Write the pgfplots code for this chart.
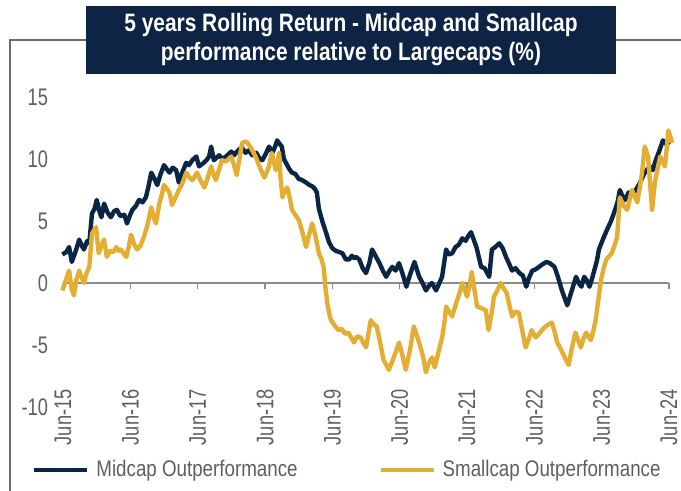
\documentclass[border=0pt]{standalone}
\usepackage{pgfplots}
\pgfplotsset{compat=1.18}
\usepackage{fontspec}
\setmainfont{Liberation Sans}[FakeStretch=0.76]
\newfontfamily\legfont{Liberation Sans}[FakeStretch=0.83]
\definecolor{navy}{HTML}{0B2545}
\definecolor{gold}{HTML}{E3AE33}
\definecolor{titlenavy}{HTML}{0E2444}
\definecolor{labelgray}{HTML}{5F5F5F}
\definecolor{framegray}{HTML}{6A6A6A}
\definecolor{zerogray}{HTML}{8C8C8C}

\pgfplotstableread{
t y
15.49 2.3
15.55 2.5
15.59 2.9
15.63 1.7
15.69 2.6
15.74 3.5
15.78 3.0
15.81 2.7
15.86 3.4
15.89 3.2
15.93 5.6
15.97 6.0
16.00 6.7
16.04 5.8
16.07 5.3
16.11 6.4
16.16 5.7
16.21 5.3
16.26 5.8
16.30 5.9
16.35 5.4
16.41 5.5
16.45 4.8
16.49 5.4
16.53 5.9
16.58 6.2
16.63 6.7
16.68 6.5
16.73 6.9
16.77 7.8
16.81 8.9
16.85 8.5
16.90 7.9
16.95 8.8
17.00 9.5
17.04 9.2
17.08 8.9
17.13 9.3
17.18 9.1
17.22 8.1
17.27 8.9
17.33 9.7
17.37 9.5
17.42 9.9
17.48 10.2
17.52 9.4
17.57 9.6
17.63 9.9
17.67 10.2
17.70 11.0
17.74 9.9
17.78 10.1
17.82 10.3
17.87 10.0
17.92 10.2
17.96 10.4
18.00 10.6
18.04 10.3
18.07 10.5
18.12 10.8
18.16 10.9
18.21 10.5
18.26 10.7
18.31 10.3
18.37 10.5
18.41 10.1
18.46 9.9
18.51 10.4
18.56 11.0
18.61 10.5
18.65 11.0
18.68 11.5
18.72 11.2
18.75 11.0
18.78 10.0
18.81 9.7
18.86 9.2
18.90 8.9
18.95 8.8
19.00 8.4
19.05 8.3
19.11 8.1
19.16 7.9
19.20 7.8
19.24 7.6
19.27 7.3
19.30 6.0
19.35 5.0
19.41 4.0
19.45 3.3
19.50 2.8
19.55 2.6
19.60 2.5
19.65 2.4
19.70 1.9
19.75 1.9
19.79 2.2
19.82 2.0
19.85 2.1
19.90 1.9
19.95 1.2
20.00 0.8
20.05 1.6
20.09 2.7
20.14 2.2
20.20 1.6
20.25 1.0
20.30 0.5
20.35 1.0
20.39 1.3
20.44 1.0
20.49 1.6
20.54 0.8
20.60 -0.3
20.65 0.6
20.72 1.7
20.76 1.0
20.79 0.5
20.84 0.0
20.89 -0.6
20.94 -0.2
20.98 0.0
21.04 -0.6
21.09 0.0
21.13 0.5
21.19 2.7
21.23 2.3
21.28 2.4
21.33 2.9
21.38 3.1
21.43 3.6
21.48 3.4
21.52 3.8
21.56 4.1
21.60 3.5
21.64 2.9
21.68 2.0
21.71 1.3
21.76 1.2
21.83 0.5
21.87 2.7
21.92 2.9
21.98 3.2
22.03 2.8
22.08 2.1
22.13 1.5
22.17 1.0
22.22 1.2
22.28 0.8
22.33 0.6
22.38 -0.3
22.42 0.4
22.47 1.0
22.52 1.1
22.57 1.3
22.62 1.5
22.68 1.7
22.73 1.6
22.80 1.3
22.85 0.5
22.91 -0.6
22.95 -1.2
22.99 -1.8
23.04 -0.9
23.08 -0.2
23.12 0.5
23.16 0.0
23.20 -0.3
23.24 0.5
23.28 0.2
23.32 -0.3
23.36 0.4
23.39 1.0
23.43 1.8
23.46 2.7
23.51 3.4
23.58 4.3
23.64 5.0
23.70 5.9
23.74 6.6
23.77 7.5
23.81 7.0
23.85 6.7
23.90 7.3
23.96 7.1
24.03 7.7
24.08 8.2
24.13 8.8
24.17 9.1
24.22 9.4
24.26 9.1
24.31 10.0
24.36 10.7
24.41 11.5
24.46 11.2
24.51 11.4
}\midcap

\pgfplotstableread{
t y
15.49 -0.6
15.54 0.2
15.59 1.0
15.63 -0.5
15.66 -1.0
15.70 0.3
15.74 1.0
15.78 0.4
15.81 0.0
15.85 0.8
15.89 1.3
15.93 4.0
15.99 4.5
16.03 2.4
16.07 3.0
16.11 3.5
16.15 2.1
16.20 2.6
16.25 2.5
16.29 2.9
16.33 2.6
16.36 2.7
16.40 2.4
16.44 2.1
16.48 3.0
16.51 3.9
16.55 3.2
16.60 2.7
16.65 3.0
16.70 3.7
16.75 4.6
16.81 6.1
16.85 5.2
16.88 4.8
16.93 6.4
16.97 7.2
17.00 7.9
17.04 7.6
17.08 7.3
17.12 6.3
17.17 6.9
17.22 7.5
17.27 8.0
17.33 8.9
17.38 8.5
17.42 8.3
17.46 8.6
17.49 8.9
17.54 8.3
17.60 7.7
17.65 8.5
17.70 9.4
17.74 8.7
17.77 8.3
17.82 9.2
17.86 9.9
17.92 9.8
18.00 10.2
18.04 9.5
18.08 8.7
18.12 10.0
18.16 11.3
18.21 11.4
18.24 11.3
18.28 11.0
18.31 10.7
18.36 10.2
18.41 9.5
18.45 9.0
18.49 8.5
18.53 9.0
18.56 9.4
18.60 10.5
18.63 9.8
18.66 9.1
18.69 9.8
18.71 10.5
18.73 8.5
18.76 6.9
18.79 7.4
18.83 7.7
18.87 6.8
18.90 5.9
18.95 5.5
19.00 5.1
19.05 4.2
19.11 2.9
19.15 3.8
19.20 4.8
19.25 3.8
19.30 2.4
19.34 1.9
19.37 1.3
19.40 -0.5
19.43 -1.8
19.46 -2.6
19.48 -3.0
19.53 -3.4
19.59 -3.8
19.64 -3.7
19.69 -4.1
19.74 -4.0
19.78 -4.4
19.82 -4.8
19.87 -4.3
19.92 -4.4
19.96 -4.8
20.00 -5.2
20.04 -4.0
20.07 -3.0
20.11 -3.3
20.16 -3.5
20.21 -4.8
20.26 -6.2
20.30 -6.6
20.34 -7.0
20.39 -6.3
20.44 -5.6
20.49 -4.8
20.54 -5.8
20.59 -7.0
20.65 -5.5
20.71 -3.5
20.76 -4.3
20.81 -5.2
20.85 -6.0
20.89 -7.2
20.93 -6.5
20.98 -6.0
21.02 -6.8
21.08 -5.5
21.13 -4.4
21.17 -3.0
21.19 -1.9
21.23 -2.3
21.28 -2.7
21.34 -1.6
21.39 -0.8
21.43 0.0
21.47 -0.6
21.50 -1.1
21.54 -0.2
21.57 0.9
21.61 -0.5
21.65 -1.9
21.70 -2.0
21.78 -2.2
21.82 -3.8
21.87 -2.3
21.90 -1.1
21.95 -0.6
22.00 0.0
22.04 -0.4
22.09 -0.8
22.13 -1.8
22.17 -2.7
22.22 -2.3
22.27 -2.4
22.32 -3.8
22.37 -5.2
22.42 -4.5
22.46 -3.8
22.52 -4.4
22.57 -4.1
22.63 -3.7
22.67 -3.5
22.72 -3.3
22.76 -3.2
22.80 -3.9
22.84 -4.8
22.90 -5.4
22.96 -6.1
23.01 -6.6
23.06 -5.2
23.11 -4.0
23.15 -4.6
23.19 -5.2
23.23 -4.5
23.27 -4.0
23.31 -4.4
23.34 -4.6
23.38 -3.8
23.41 -3.0
23.45 -1.4
23.49 0.2
23.53 1.2
23.57 1.9
23.65 2.4
23.69 3.0
23.73 3.7
23.77 6.9
23.83 6.2
23.88 5.9
23.95 7.5
24.03 6.5
24.07 7.8
24.10 8.9
24.14 11.0
24.19 10.2
24.22 8.0
24.25 5.9
24.29 8.1
24.33 9.2
24.37 10.2
24.44 9.4
24.47 11.0
24.49 12.3
24.52 11.8
24.55 11.3
}\smallcap

\begin{document}
\begin{tikzpicture}
\useasboundingbox (0,0) rectangle (340.5pt,245.5pt);
\draw[framegray, line width=0.7pt] (5pt,0) -- (5pt,225.5pt) -- (340.5pt,225.5pt);
\begin{axis}[
  at={(28.15pt,42pt)}, anchor=south west,
  scale only axis, width=309.7pt, height=158.1pt,
  xmin=15.4, xmax=24.6, ymin=-10, ymax=15.5,
  axis x line*=bottom, axis y line*=left,
  axis line style={draw=none},
  major tick length=0pt,
  clip=false,
  xtick={15.5,16.5,17.5,18.5,19.5,20.5,21.5,22.5,23.5,24.5},
  xticklabels={Jun-15,Jun-16,Jun-17,Jun-18,Jun-19,Jun-20,Jun-21,Jun-22,Jun-23,Jun-24},
  ytick={-10,-5,0,5,10,15},
  yticklabels={-10,-5,0,5,10,15},
  tick label style={font=\fontsize{12}{12}\selectfont, text=labelgray},
  xticklabel style={rotate=90, anchor=east, inner sep=0pt},
  xticklabel shift=-9pt,
  yticklabel style={inner sep=0pt, anchor=east},
  yticklabel shift=4pt,
  legend style={at={(-0.0392,-0.1992)}, anchor=west, draw=none, fill=none,
    inner sep=0pt, font=\legfont\fontsize{11.3}{11.3}\selectfont, text=labelgray,
    /tikz/every odd column/.append style={column sep=1.5pt},
    /tikz/every even column/.append style={column sep=38.5pt}},
  legend columns=2,
  legend image code/.code={\draw[#1, line width=2pt] (0pt,0pt) -- (26.5pt,0pt);},
]
\draw[zerogray, line width=0.8pt] (axis cs:15.5,0) -- (axis cs:24.5,0);
\pgfplotsinvokeforeach{15.5,16.5,17.5,18.5,19.5,20.5,21.5,22.5,23.5,24.5}{
  \draw[zerogray, line width=0.8pt] (axis cs:#1,0) -- ([yshift=-3pt]axis cs:#1,0);
}
\addplot[navy, line width=2.2pt, line join=round] table[x=t,y=y] {\midcap};
\addlegendentry{Midcap Outperformance}
\addplot[gold, line width=2.2pt, line join=round] table[x=t,y=y] {\smallcap};
\addlegendentry{Smallcap Outperformance}
\end{axis}
\node[fill=titlenavy, text=white, minimum width=265pt, minimum height=34pt,
  inner sep=0pt, align=center,
  font=\legfont\bfseries\fontsize{12.6}{14.5}\selectfont]
  at (175.5pt,225.5pt) {5 years Rolling Return - Midcap and Smallcap\\performance relative to Largecaps (\%)};
\end{tikzpicture}
\end{document}
